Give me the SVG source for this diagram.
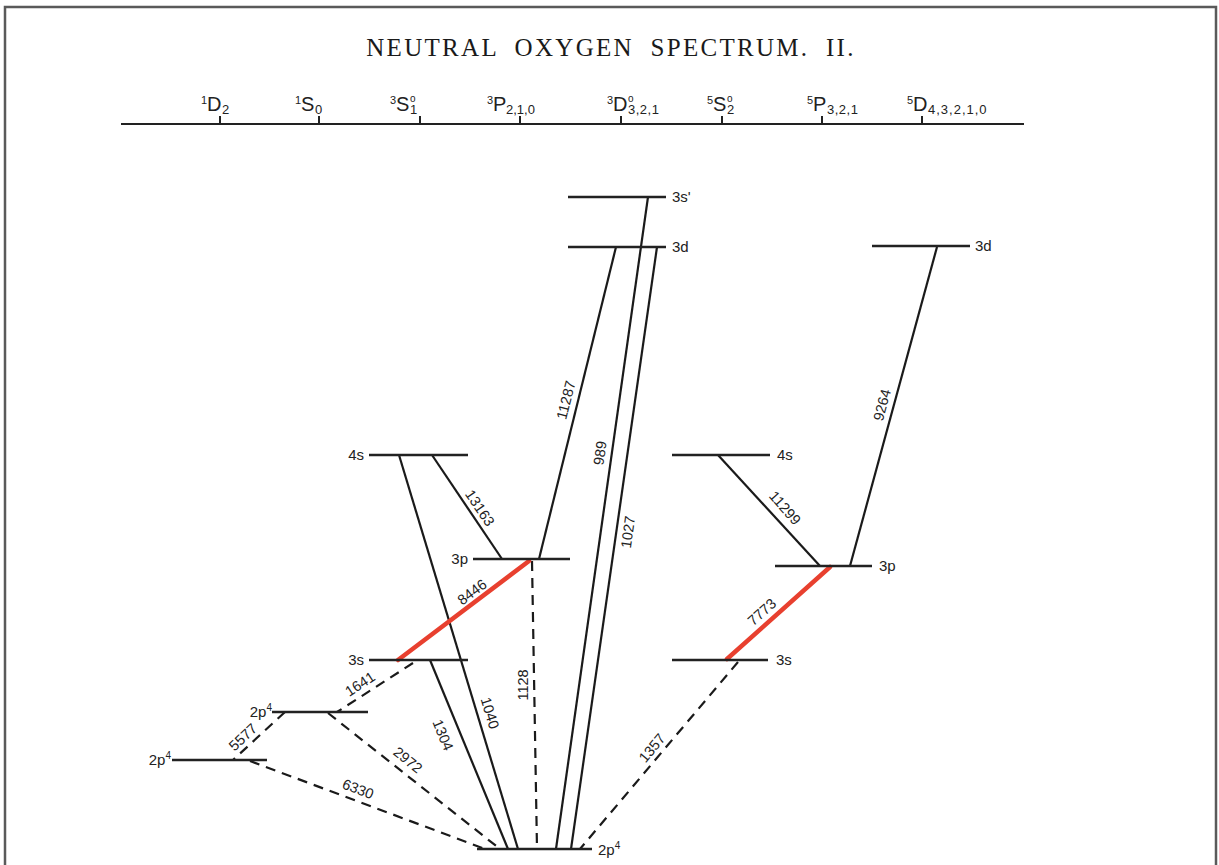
<svg xmlns="http://www.w3.org/2000/svg" width="1219" height="865" viewBox="0 0 1219 865">
<style>
.frame{fill:#fff;stroke:#5a5a5a;stroke-width:2.5}
.axis{stroke:#222;stroke-width:2;fill:none}
.lvl{stroke:#222;stroke-width:2.6;fill:none}
.s{stroke:#1a1a1a;stroke-width:2.2;fill:none}
.d{stroke:#1a1a1a;stroke-width:2.2;fill:none;stroke-dasharray:10 7}
.r{stroke:#e8402f;stroke-width:4.5;fill:none;stroke-linecap:round}
.title{font-family:"Liberation Serif",serif;font-size:25px;fill:#1a1a1a;letter-spacing:2.3px;word-spacing:8px}
.term{font-family:"Liberation Sans",Arial,sans-serif;font-size:20px;fill:#222}
.sup{font-size:11px}
.sub{font-size:13px}
.o{font-size:10px}
.ll{font-family:"Liberation Sans",Arial,sans-serif;font-size:15px;fill:#222}
.tl{font-family:"Liberation Sans",Arial,sans-serif;font-size:14.5px;fill:#222;text-anchor:middle}
</style>
<rect class="frame" x="5" y="7" width="1211" height="880"/>
<text class="title" x="611" y="56" text-anchor="middle">NEUTRAL OXYGEN SPECTRUM. II.</text>
<g id="axis">
<line class="axis" x1="121" y1="124" x2="1024" y2="124"/>
<path class="axis" d="M220 116V124M319 116V124M420 116V124M520 116V124M621 116V124M722 116V124M822 116V124M922 116V124"/>
<text class="term"><tspan class="sup" x="201" y="104">1</tspan><tspan x="207" y="111">D</tspan><tspan class="sub" x="222" y="114">2</tspan></text>
<text class="term"><tspan class="sup" x="295" y="104">1</tspan><tspan x="301" y="111">S</tspan><tspan class="sub" x="315" y="114">0</tspan></text>
<text class="term"><tspan class="sup" x="390" y="104">3</tspan><tspan x="396" y="111">S</tspan><tspan class="o" x="410" y="102">o</tspan><tspan class="sub" x="410" y="114">1</tspan></text>
<text class="term"><tspan class="sup" x="487" y="104">3</tspan><tspan x="493" y="111">P</tspan><tspan class="sub" x="506" y="114">2,1,0</tspan></text>
<text class="term"><tspan class="sup" x="607" y="104">3</tspan><tspan x="613" y="111">D</tspan><tspan class="o" x="628" y="102">o</tspan><tspan class="sub" x="628" y="114" letter-spacing="0.5">3,2,1</tspan></text>
<text class="term"><tspan class="sup" x="707" y="104">5</tspan><tspan x="713" y="111">S</tspan><tspan class="o" x="727" y="102">o</tspan><tspan class="sub" x="727" y="114">2</tspan></text>
<text class="term"><tspan class="sup" x="807" y="104">5</tspan><tspan x="813" y="111">P</tspan><tspan class="sub" x="827" y="114" letter-spacing="0.5">3,2,1</tspan></text>
<text class="term"><tspan class="sup" x="907" y="104">5</tspan><tspan x="913" y="111">D</tspan><tspan class="sub" x="928" y="114" letter-spacing="1">4,3,2,1,0</tspan></text>
</g>
<g id="connectors">
<line class="s" x1="648" y1="197" x2="556" y2="849"/>
<line class="s" x1="657" y1="247" x2="571" y2="849"/>
<line class="s" x1="616" y1="247" x2="539" y2="559"/>
<line class="s" x1="937" y1="247" x2="850" y2="566"/>
<line class="s" x1="432" y1="455" x2="502" y2="559"/>
<line class="s" x1="718" y1="455" x2="820" y2="566"/>
<line class="s" x1="399" y1="455" x2="518" y2="849"/>
<line class="s" x1="430" y1="660" x2="508" y2="849"/>
<line class="d" x1="532" y1="561" x2="537" y2="849"/>
<line class="d" x1="738" y1="662" x2="580" y2="849"/>
<line class="d" x1="413" y1="663" x2="337" y2="712"/>
<line class="d" x1="285" y1="712" x2="233" y2="760"/>
<line class="d" x1="328" y1="713" x2="500" y2="849"/>
<line class="d" x1="250" y1="761" x2="485" y2="849"/>
<line class="r" x1="398" y1="660" x2="529" y2="561"/>
<line class="r" x1="727" y1="659" x2="830" y2="567"/>
<text class="tl" transform="translate(566,400) rotate(-76)" dy="5">11287</text>
<text class="tl" transform="translate(600,453) rotate(-82)" dy="5">989</text>
<text class="tl" transform="translate(628,532) rotate(-82)" dy="5">1027</text>
<text class="tl" transform="translate(882,405) rotate(-75)" dy="5">9264</text>
<text class="tl" transform="translate(480,508) rotate(56)" dy="5">13163</text>
<text class="tl" transform="translate(785,508) rotate(48.5)" dy="5">11299</text>
<text class="tl" transform="translate(472,592) rotate(-37)" dy="5">8446</text>
<text class="tl" transform="translate(762,612) rotate(-42)" dy="5">7773</text>
<text class="tl" transform="translate(490,713) rotate(73)" dy="5">1040</text>
<text class="tl" transform="translate(443,735) rotate(68)" dy="5">1304</text>
<text class="tl" transform="translate(523,685) rotate(-90)" dy="5">1128</text>
<text class="tl" transform="translate(652,748) rotate(-50)" dy="5">1357</text>
<text class="tl" transform="translate(408,760) rotate(39)" dy="5">2972</text>
<text class="tl" transform="translate(358,789) rotate(21)" dy="5">6330</text>
<text class="tl" transform="translate(360,684) rotate(-33)" dy="5">1641</text>
<text class="tl" transform="translate(243,737) rotate(-43)" dy="5">5577</text>
</g>
<g id="lvl-3sprime"><line class="lvl" x1="568" y1="197" x2="666" y2="197"/><text class="ll" x="672" y="202">3s'</text></g>
<g id="lvl-3d-triplet"><line class="lvl" x1="568" y1="247" x2="666" y2="247"/><text class="ll" x="672" y="252">3d</text></g>
<g id="lvl-3d-quintet"><line class="lvl" x1="872" y1="246" x2="970" y2="246"/><text class="ll" x="975" y="251">3d</text></g>
<g id="lvl-4s-triplet"><line class="lvl" x1="369" y1="455" x2="468" y2="455"/><text class="ll" x="364" y="460" text-anchor="end">4s</text></g>
<g id="lvl-4s-quintet"><line class="lvl" x1="672" y1="455" x2="770" y2="455"/><text class="ll" x="777" y="460">4s</text></g>
<g id="lvl-3p-triplet"><line class="lvl" x1="473" y1="559" x2="570" y2="559"/><text class="ll" x="468" y="564" text-anchor="end">3p</text></g>
<g id="lvl-3p-quintet"><line class="lvl" x1="775" y1="566" x2="872" y2="566"/><text class="ll" x="879" y="571">3p</text></g>
<g id="lvl-3s-triplet"><line class="lvl" x1="369" y1="660" x2="468" y2="660"/><text class="ll" x="364" y="665" text-anchor="end">3s</text></g>
<g id="lvl-3s-quintet"><line class="lvl" x1="672" y1="660" x2="768" y2="660"/><text class="ll" x="776" y="665">3s</text></g>
<g id="lvl-2p4-1S"><line class="lvl" x1="272" y1="712" x2="368" y2="712"/><text class="ll" x="272" y="717" text-anchor="end">2p<tspan font-size="10" dy="-6">4</tspan></text></g>
<g id="lvl-2p4-1D"><line class="lvl" x1="172" y1="760" x2="267" y2="760"/><text class="ll" x="171" y="765" text-anchor="end">2p<tspan font-size="10" dy="-6">4</tspan></text></g>
<g id="lvl-2p4-ground"><line class="lvl" x1="477" y1="849" x2="592" y2="849"/><text class="ll" x="598" y="855">2p<tspan font-size="10" dy="-6">4</tspan></text></g>
</svg>
